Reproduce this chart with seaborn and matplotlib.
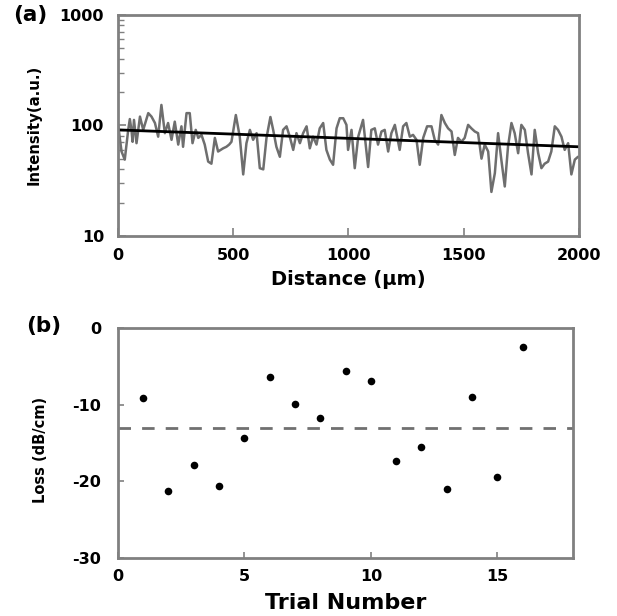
import matplotlib
matplotlib.use("Agg")
import matplotlib.pyplot as plt
import seaborn as sns
import numpy as np
import pandas as pd

# ---- Panel (a): intensity trace along the waveguide ----
distance_um = [0, 16, 30, 45, 52, 59, 64, 70, 81, 96, 110, 132, 146, 161, 175, 189, 204, 218,
               233, 247, 262, 276, 283, 298, 312, 324, 338, 349, 363, 377, 392, 406, 421, 435,
               457, 471, 483, 493, 512, 529, 544, 558, 573, 587, 602, 616, 631, 645, 662, 674,
               688, 703, 717, 732, 746, 761, 775, 790, 804, 819, 833, 847, 862, 876, 891, 905,
               920, 934, 949, 963, 978, 992, 999, 1014, 1028, 1043, 1064, 1086, 1100, 1115,
               1129, 1144, 1158, 1173, 1187, 1202, 1223, 1238, 1252, 1267, 1281, 1296, 1310,
               1325, 1342, 1361, 1375, 1390, 1404, 1419, 1433, 1448, 1462, 1476, 1491, 1505,
               1520, 1534, 1549, 1563, 1578, 1592, 1607, 1621, 1636, 1650, 1664, 1679, 1693,
               1708, 1722, 1737, 1751, 1766, 1780, 1795, 1809, 1824, 1838, 1852, 1867, 1881,
               1896, 1910, 1925, 1939, 1954, 1968, 1983, 1997]
intensity = [105, 58, 49, 91, 114, 91, 71, 112, 69, 120, 91, 129, 120, 105, 79, 153, 85, 105,
             74, 108, 67, 98, 64, 129, 129, 69, 91, 77, 82, 67, 47, 45, 77, 58,
             62, 64, 67, 71, 124, 79, 36, 69, 91, 74, 85, 41, 40, 77, 119, 91,
             64, 52, 91, 98, 79, 60, 85, 69, 85, 98, 62, 79, 67, 94, 105, 60,
             49, 44, 94, 116, 116, 101, 60, 91, 41, 79, 112, 42, 91, 94,
             67, 88, 91, 58, 85, 101, 60, 98, 105, 79, 82, 74, 44,
             77, 98, 98, 74, 67, 124, 105, 94, 88, 54, 77, 71, 77,
             101, 94, 88, 85, 50, 67, 58, 25, 37, 85, 49, 28, 64,
             105, 85, 56, 101, 91, 56, 36, 91, 56, 41, 45, 47, 58,
             98, 91, 79, 60, 69, 36, 49, 52]

# exponential fit parameters
fit_amplitude = 91.0      # a.u. at 0 um
fit_end_value = 64.0      # a.u. at 2000 um
fit_x = [0, 2000]

# ---- Panel (b): loss per trial ----
trial = list(range(1, 17))
loss_db_cm = [-9.1, -21.2, -17.9, -20.6, -14.4, -6.4, -9.9, -11.8, -5.6, -6.9,
              -17.4, -15.5, -21.0, -9.0, -19.5, -2.5]
mean_loss = -13.1

sns.set_style("ticks")
plt.rcParams["font.family"] = ["DejaVu Sans"]
plt.rcParams["font.weight"] = "bold"
plt.rcParams["axes.unicode_minus"] = False
plt.rcParams["text.color"] = "black"
plt.rcParams["axes.labelcolor"] = "black"
plt.rcParams["xtick.labelcolor"] = "black"
plt.rcParams["ytick.labelcolor"] = "black"

fig = plt.figure(figsize=(6.17, 6.16), dpi=100)
ax1 = fig.add_axes([0.191, 0.617, 0.747, 0.359])
ax2 = fig.add_axes([0.191, 0.094, 0.738, 0.374])

df_a = pd.DataFrame({"d": distance_um, "I": intensity})
sns.lineplot(data=df_a, x="d", y="I", ax=ax1, color="#6e6e6e", lw=1.8)
k = np.log(fit_amplitude / fit_end_value) / (fit_x[1] - fit_x[0])
xx = np.linspace(fit_x[0], fit_x[1], 50)
df_fit = pd.DataFrame({"d": xx, "I": fit_amplitude * np.exp(-k * xx)})
sns.lineplot(data=df_fit, x="d", y="I", ax=ax1, color="black", lw=2.0)

ax1.set_yscale("log")
ax1.set_ylim(10, 1000)
ax1.set_xlim(0, 2000)
ax1.set_xticks([0, 500, 1000, 1500, 2000])
ax1.set_yticks([10, 100, 1000])
ax1.set_yticklabels(["10", "100", "1000"])
ax1.set_xlabel("Distance (\u03bcm)", fontsize=14, fontweight="bold")
ax1.set_ylabel("Intensity(a.u.)", fontsize=10.7, fontweight="bold")
ax1.xaxis.set_label_coords(0.5, -0.152)
ax1.yaxis.set_label_coords(-0.165, 0.5)
ax1.tick_params(axis="both", which="major", direction="in", length=6, width=1.2,
                color="#808080", labelsize=11.5, labelcolor="black")
ax1.tick_params(axis="x", which="major", pad=9)
ax1.tick_params(axis="y", which="major", pad=10)
ax1.tick_params(axis="y", which="minor", direction="in", length=4, width=1.0, color="#808080")
ax1.tick_params(axis="x", which="minor", bottom=False)
for lab in ax1.get_xticklabels() + ax1.get_yticklabels():
    lab.set_fontweight("bold")

df_b = pd.DataFrame({"t": trial, "L": loss_db_cm})
sns.scatterplot(data=df_b, x="t", y="L", ax=ax2, color="black", s=30, edgecolor="black", linewidth=0)
ax2.axhline(mean_loss, color="#707070", lw=2.0, linestyle=(0, (4.5, 4.0)))
ax2.set_xlim(0, 18)
ax2.set_ylim(-30, 0)
ax2.set_xticks([0, 5, 10, 15])
ax2.set_yticks([-30, -20, -10, 0])
ax2.set_xlabel("Trial Number", fontsize=16, fontweight="bold")
ax2.set_ylabel("Loss (dB/cm)", fontsize=10.5, fontweight="bold")
ax2.xaxis.set_label_coords(0.5, -0.15)
ax2.yaxis.set_label_coords(-0.154, 0.47)
ax2.tick_params(axis="both", which="major", direction="in", length=4, width=1.2,
                color="#808080", labelsize=11.5, labelcolor="black")
ax2.tick_params(axis="x", which="major", pad=8)
ax2.tick_params(axis="y", which="major", pad=12)
for lab in ax2.get_xticklabels() + ax2.get_yticklabels():
    lab.set_fontweight("bold")

for ax in (ax1, ax2):
    for sp in ax.spines.values():
        sp.set_visible(True)
        sp.set_color("#808080")
        sp.set_linewidth(2.0)

fig.text(0.022, 0.975, "(a)", fontsize=15.5, fontweight="bold", va="center", ha="left")
fig.text(0.042, 0.470, "(b)", fontsize=15.5, fontweight="bold", va="center", ha="left")

fig.savefig("out.png", dpi=100)
